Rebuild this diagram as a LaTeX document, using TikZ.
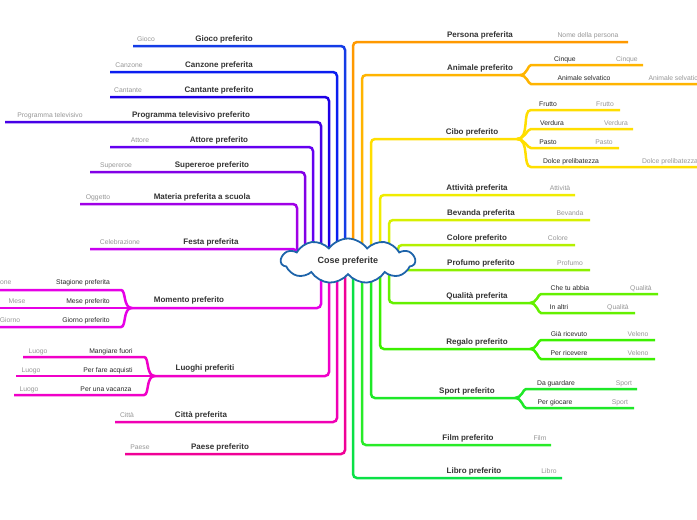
\documentclass[tikz,border=0pt]{standalone}
\usepackage{fontspec}
\setmainfont{Liberation Sans}
\usetikzlibrary{shapes.symbols}
\definecolor{txt}{RGB}{51,51,51}
\definecolor{leafgray}{RGB}{150,150,150}
\definecolor{cloudblue}{RGB}{30,100,170}
\tikzset{
  br/.style={line width=2.5pt, rounded corners=4pt, draw=#1},
  lab/.style={font=\fontsize{8}{9}\selectfont\bfseries, text=txt, anchor=base, inner sep=0pt},
  sub/.style={font=\fontsize{6.8}{7}\selectfont, text=black!85, anchor=base, inner sep=0pt},
  leaf/.style={font=\fontsize{6.8}{7}\selectfont, text=leafgray, anchor=base, inner sep=0pt}
}
\begin{document}
\begin{tikzpicture}[x=1pt, y=-1pt]
  \useasboundingbox (0,0) rectangle (697,520);
  \coordinate (c) at (348,261);
  % simple branches: y / vertical x / end x / label / label x / leaf / leaf x / colour
  \foreach \y/\v/\e/\l/\lx/\f/\fx/\col in {
      42/353/628/Persona preferita/480/Nome della persona/588/{255,153,0},
      195/380/575/Attività preferita/477/Attività/560/{240,236,0},
      220/389/590/Bevanda preferita/481/Bevanda/570/{215,240,0},
      245/398/575/Colore preferito/477/Colore/558/{180,240,0},
      270/398/590/Profumo preferito/481/Profumo/570/{140,240,0},
      445/362/551/Film preferito/468/Film/540/{40,235,40},
      478/353/562/Libro preferito/474/Libro/549/{10,225,70},
      46/345/133/Gioco preferito/224/Gioco/146/{20,60,230},
      72/337/110/Canzone preferita/219/Canzone/129/{10,30,240},
      97/329/110/Cantante preferito/219/Cantante/128/{30,0,230},
      122/321/5/Programma televisivo preferito/191/Programma televisivo/50/{70,0,230},
      147/313/110/Attore preferito/219/Attore/140/{100,0,240},
      172/305/90/Supereroe preferito/212/Supereroe/116/{130,0,230},
      204/297/80/Materia preferita a scuola/202/Oggetto/98/{160,0,230},
      249/297/90/Festa preferita/211/Celebrazione/120/{200,0,240},
      422/337/115/Città preferita/201/Città/127/{240,0,180},
      454/345/125/Paese preferito/220/Paese/140/{240,0,150}} {
    \definecolor{bc}{RGB}{\col}
    \coordinate (e) at (\e,\y);
    \draw[br=bc] (c -| \v,0) |- (e);
    \node[lab] at (\lx,\y-5) {\l};
    \node[leaf] at (\fx,\y-5) {\f};
  }
  % forked branches on the right
  \definecolor{bc}{RGB}{255,180,0}
  \draw[br=bc] (c -| 362,0) |- (520,75) coordinate (f1);
  \draw[br=bc] (f1) to[out=0,in=180] (535,65) -- (643,65);
  \draw[br=bc] (f1) to[out=0,in=180] (535,84) -- (697,84);
  \node[lab] at (480,70) {Animale preferito};
  \node[sub] at (565,61) {Cinque};
  \node[leaf] at (627,61) {Cinque};
  \node[sub] at (584,80) {Animale selvatico};
  \node[leaf] at (675,80) {Animale selvatico};
  \definecolor{bc}{RGB}{255,222,0}
  \draw[br=bc] (c -| 371,0) |- (517,139) coordinate (f2);
  \foreach \yy/\ee/\t/\tx/\g/\gx in {110/620/Frutto/548/Frutto/605,129/633/Verdura/552/Verdura/616,
      148/619/Pasto/548/Pasto/604,167/697/Dolce prelibatezza/571/Dolce prelibatezza/670} {
    \draw[br=bc] (f2) to[out=0,in=180] (535,\yy) -- (\ee,\yy);
    \node[sub] at (\tx,\yy-4) {\t};
    \node[leaf] at (\gx,\yy-4) {\g};
  }
  \node[lab] at (472,134) {Cibo preferito};
  \definecolor{bc}{RGB}{100,240,0}
  \draw[br=bc] (c -| 389,0) |- (530,303) coordinate (f3);
  \draw[br=bc] (f3) to[out=0,in=180] (545,294) -- (658,294);
  \draw[br=bc] (f3) to[out=0,in=180] (545,313) -- (635,313);
  \node[lab] at (477,298) {Qualità preferita};
  \node[sub] at (570,290) {Che tu abbia};
  \node[leaf] at (641,290) {Qualità};
  \node[sub] at (559,309) {In altri};
  \node[leaf] at (618,309) {Qualità};
  \definecolor{bc}{RGB}{60,240,0}
  \draw[br=bc] (c -| 380,0) |- (530,349) coordinate (f4);
  \draw[br=bc] (f4) to[out=0,in=180] (545,340) -- (655,340);
  \draw[br=bc] (f4) to[out=0,in=180] (545,359) -- (655,359);
  \node[lab] at (477,344) {Regalo preferito};
  \node[sub] at (569,336) {Già ricevuto};
  \node[leaf] at (638,336) {Veleno};
  \node[sub] at (569,355) {Per ricevere};
  \node[leaf] at (638,355) {Veleno};
  \definecolor{bc}{RGB}{30,232,40}
  \draw[br=bc] (c -| 371,0) |- (515,398) coordinate (f5);
  \draw[br=bc] (f5) to[out=0,in=180] (530,389) -- (637,389);
  \draw[br=bc] (f5) to[out=0,in=180] (530,408) -- (634,408);
  \node[lab] at (467,393) {Sport preferito};
  \node[sub] at (556,385) {Da guardare};
  \node[leaf] at (624,385) {Sport};
  \node[sub] at (555,404) {Per giocare};
  \node[leaf] at (620,404) {Sport};
  % forked branches on the left
  \definecolor{bc}{RGB}{230,0,230}
  \draw[br=bc] (c -| 321,0) |- (132,308) coordinate (f6);
  \draw[br=bc] (f6) to[out=180,in=0] (117,290) -- (0,290);
  \draw[br=bc] (f6) -- (0,308);
  \draw[br=bc] (f6) to[out=180,in=0] (117,327) -- (0,327);
  \node[lab] at (189,302) {Momento preferito};
  \node[sub] at (83,284) {Stagione preferita};
  \node[leaf] at (5,284) {ione};
  \node[sub] at (88,303) {Mese preferito};
  \node[leaf] at (17,303) {Mese};
  \node[sub] at (86,322) {Giorno preferito};
  \node[leaf] at (10,322) {Giorno};
  \definecolor{bc}{RGB}{240,0,200}
  \draw[br=bc] (c -| 329,0) |- (155,376) coordinate (f7);
  \draw[br=bc] (f7) to[out=180,in=0] (140,357) -- (23,357);
  \draw[br=bc] (f7) -- (16,376);
  \draw[br=bc] (f7) to[out=180,in=0] (140,395) -- (14,395);
  \node[lab] at (205,370) {Luoghi preferiti};
  \node[sub] at (111,353) {Mangiare fuori};
  \node[leaf] at (38,353) {Luogo};
  \node[sub] at (108,372) {Per fare acquisti};
  \node[leaf] at (31,372) {Luogo};
  \node[sub] at (106,391) {Per una vacanza};
  \node[leaf] at (29,391) {Luogo};
  % centre
  \node[cloud, cloud puffs=11, cloud puff arc=110, aspect=3, draw=cloudblue, line width=1.8pt,
    fill=white, minimum width=134pt, minimum height=45pt, inner sep=0pt,
    font=\fontsize{9}{10}\selectfont\bfseries, text=txt] (cose) at (c) {Cose preferite};
\end{tikzpicture}
\end{document}
